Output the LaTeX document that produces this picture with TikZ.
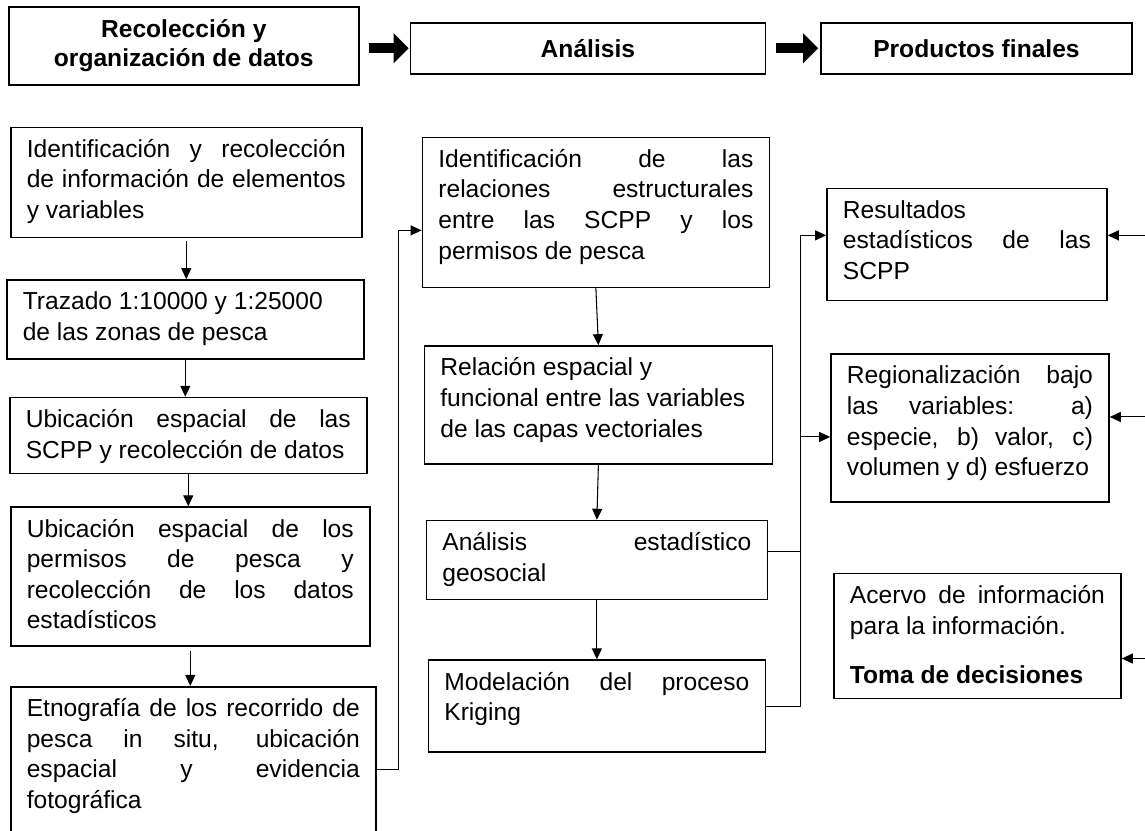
\documentclass[tikz,border=0pt]{standalone}
\usepackage{fontspec}
\setmainfont{Liberation Sans}
\usetikzlibrary{positioning, arrows.meta}

\begin{document}
\begin{tikzpicture}[
    font=\fontsize{14pt}{17.4pt}\selectfont,
    head/.style={rectangle, draw, line width=0.9pt, align=center,
                 font=\fontsize{14pt}{16.5pt}\selectfont\bfseries},
    stage/.style={rectangle, draw, line width=0.9pt, align=justify,
                  inner xsep=0.32cm, inner ysep=0.1cm, text height=0.5cm,
                  execute at begin node={\tolerance=10000\hyphenpenalty=10000}},
    link/.style={-{Triangle[length=0.22cm, width=0.2cm]}, line width=0.6pt},
    bigarrow/.style={-{Triangle[length=0.3cm, width=0.58cm]}, line width=0.2cm}
]
\useasboundingbox (0,0) rectangle (22.9,-16.6);

% --- Encabezados ---
\node[head, minimum width=7cm, minimum height=1.56cm, anchor=north west] (recol) at (0.16,-0.12) {Recolección y\\organización de datos};
\node[head, minimum width=7.1cm, minimum height=1.02cm, right=1cm of recol, yshift=-0.05cm] (anal) {Análisis};
\node[head, minimum width=6.22cm, minimum height=1.02cm, right=1.08cm of anal] (prod) {Productos finales};

\draw[bigarrow, shorten <=0.18cm, shorten >=0.02cm] (recol.east |- anal.west) -- (anal.west);
\draw[bigarrow, shorten <=0.2cm, shorten >=0.04cm] (anal.east) -- (prod.west);

% --- Recolección ---
\node[stage, text width=6.38cm, text depth=1.5cm, below=0.82cm of recol.south west, anchor=north west, xshift=0.04cm] (ident)
    {Identificación y recolección\linebreak de información de elementos\linebreak y variables};
\node[stage, text width=6.5cm, text depth=0.88cm, below=0.82cm of ident.south west, anchor=north west, xshift=-0.08cm] (traz)
    {Trazado 1:10000 y 1:25000\\de las zonas de pesca};
\node[stage, text width=6.5cm, text depth=0.82cm, below=0.74cm of traz.south west, anchor=north west, xshift=0.06cm] (scpp)
    {Ubicación espacial de las\linebreak SCPP y recolección de datos};
\node[stage, text width=6.54cm, text depth=2.08cm, below=0.64cm of scpp.south west, anchor=north west, xshift=0.02cm] (perm)
    {Ubicación espacial de los\linebreak permisos de pesca y\linebreak recolección de los datos\linebreak estadísticos};
\node[stage, text width=6.66cm, text depth=2.6cm, below=0.78cm of perm.south west, anchor=north west] (etno)
    {Etnografía de los recorrido de\linebreak pesca in situ, ubicación\linebreak espacial y evidencia\linebreak fotográfica};

% --- Análisis ---
\node[stage, text width=6.3cm, text depth=2.3cm, below=1.24cm of anal.south west, anchor=north west, xshift=0.24cm] (estruc)
    {Identificación de las\linebreak relaciones estructurales\linebreak entre las SCPP y los\linebreak permisos de pesca};
\node[stage, text width=6.32cm, text depth=1.66cm, below=1.14cm of estruc.south west, anchor=north west, xshift=0.04cm] (relac)
    {Relación espacial y\\funcional entre las variables\\de las capas vectoriales};
\node[stage, text width=6.18cm, text depth=0.88cm, below=1.1cm of relac.south west, anchor=north west, xshift=0.04cm] (estad)
    {Análisis estadístico\linebreak geosocial};
\node[stage, text width=6.1cm, text depth=1.14cm, below=1.18cm of estad.south west, anchor=north west, xshift=0.04cm] (krig)
    {Modelación del proceso\linebreak Kriging};

% --- Productos finales ---
\node[stage, text width=4.96cm, text depth=1.54cm, below=2.26cm of prod.south west, anchor=north west, xshift=0.12cm] (result)
    {Resultados\\estadísticos de las\linebreak SCPP};
\node[stage, text width=4.92cm, text depth=2.26cm, below=1.04cm of result.south west, anchor=north west, xshift=0.08cm] (region)
    {Regionalización bajo\linebreak las variables: a)\linebreak especie, b) valor, c)\linebreak volumen y d) esfuerzo};
\node[stage, text width=5.1cm, text depth=1.8cm, below=1.4cm of region.south west, anchor=north west, xshift=0.06cm] (acervo)
    {Acervo de información\linebreak para la información.\\[0.37cm]\textbf{Toma de decisiones}};

% --- Flechas ---
\draw[link, shorten <=0.06cm] (ident.south) -- (ident.south |- traz.north);
\draw[link] (traz.south) -- (traz.south |- scpp.north);
\draw[link] (scpp.south) -- (scpp.south |- perm.north);
\draw[link, shorten <=0.08cm] (perm.south) -- (perm.south |- etno.north);

\draw[link] (estruc.south) -- (relac.north);
\draw[link] (relac.south) -- (estad.north);
\draw[link] (estad.south) -- (krig.north);

\coordinate (entra) at ([yshift=-0.36cm]estruc.west);
\draw[link] ([yshift=-1.68cm]etno.north east) -- ++(0.44cm,0) |- (entra);

% bus hacia productos
\coordinate (bus) at ([xshift=0.64cm]estad.east);
\coordinate (resIn) at ([yshift=0.18cm]result.west);
\coordinate (regIn) at ([yshift=-0.18cm]region.west);
\draw[line width=0.6pt] ([yshift=0.18cm]estad.east) -- ([yshift=0.18cm]estad.east -| bus);
\draw[link] (krig.east) -| (bus |- resIn) -- (resIn);
\draw[link] (bus |- regIn) -- (regIn);

% flechas desde el borde
\coordinate (borde) at (22.9,0);
\coordinate (resOut) at ([yshift=0.18cm]result.east);
\coordinate (regOut) at ([yshift=0.22cm]region.east);
\coordinate (acOut) at ([yshift=-0.45cm]acervo.east);
\draw[link] (borde |- resOut) -- (resOut);
\draw[link] (borde |- regOut) -- (regOut);
\draw[link] (borde |- acOut) -- (acOut);

\end{tikzpicture}
\end{document}
